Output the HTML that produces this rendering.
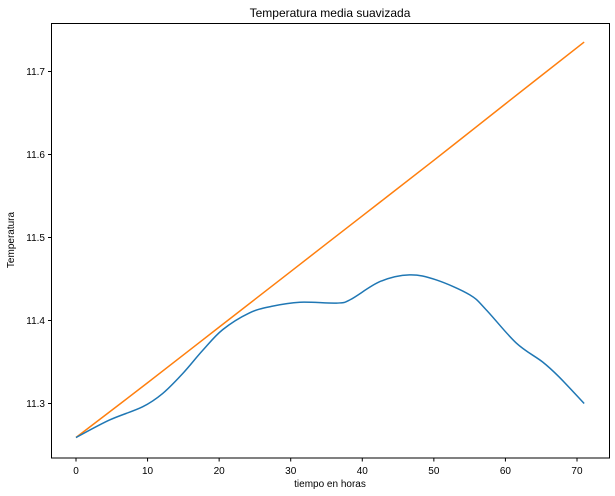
<!DOCTYPE html>
<html><head><meta charset="utf-8"><style>
html,body{margin:0;padding:0;background:#fff;}
svg{display:block;font-family:"Liberation Sans","DejaVu Sans",sans-serif;}
</style></head><body>
<svg id="chart" width="615" height="496">
<rect x="0" y="0" width="615" height="496" fill="#fff"/>
<g id="plot"></g>
<rect x="51.5" y="23.5" width="558" height="434.5" fill="none" stroke="#000" stroke-width="1"/>
<text x="330" y="17" font-size="12" text-anchor="middle">Temperatura media suavizada</text>
<text x="330" y="487" font-size="10" text-anchor="middle">tiempo en horas</text>
<text x="14" y="240" font-size="10" text-anchor="middle" transform="rotate(-90 14 240)">Temperatura</text>
<g id="ticks"></g>
</svg>
<script>
const xTicks=[0,10,20,30,40,50,60,70];
const yTicks=[11.3,11.4,11.5,11.6,11.7];
const yTickLabels=["11.3","11.4","11.5","11.6","11.7"];
const blueT=[0,4.66,9.3,12.1,14.9,17.7,20.5,24.2,27.3,31.3,36.4,38.3,42.5,46.6,50.3,55,57.3,61.5,65.2,67.5,71];
const blueV=[11.259,11.280,11.296,11.312,11.336,11.364,11.389,11.409,11.417,11.422,11.421,11.425,11.447,11.455,11.449,11.431,11.413,11.373,11.350,11.332,11.300];
const orangeT=[0,10,20,30,40,50,60,71];
const orangeV=[11.259,11.325,11.392,11.459,11.526,11.593,11.661,11.7355];
function sx(t){return 76+t*7.157;}
function sy(v){return 403.5-(v-11.3)*830;}
const NS="http://www.w3.org/2000/svg";
const plot=document.getElementById('plot');
const ticks=document.getElementById('ticks');
function smoothPath(pts){
  let d='M'+pts[0][0].toFixed(2)+','+pts[0][1].toFixed(2);
  for(let i=0;i<pts.length-1;i++){
    const p0=pts[Math.max(i-1,0)],p1=pts[i],p2=pts[i+1],p3=pts[Math.min(i+2,pts.length-1)];
    const c1=[p1[0]+(p2[0]-p0[0])/6,p1[1]+(p2[1]-p0[1])/6];
    const c2=[p2[0]-(p3[0]-p1[0])/6,p2[1]-(p3[1]-p1[1])/6];
    d+=' C'+c1[0].toFixed(2)+','+c1[1].toFixed(2)+' '+c2[0].toFixed(2)+','+c2[1].toFixed(2)+' '+p2[0].toFixed(2)+','+p2[1].toFixed(2);
  }
  return d;
}
function line(ts,vs,color,name){
  const p=document.createElementNS(NS,'path');
  p.setAttribute('d',smoothPath(ts.map((t,i)=>[sx(t),sy(vs[i])])));
  p.setAttribute('fill','none');p.setAttribute('stroke',color);p.setAttribute('stroke-width','1.5');
  
  
  plot.appendChild(p);
}
line(orangeT,orangeV,'#ff7f0e','trend-line');
line(blueT,blueV,'#1f77b4','smoothed-temperature-line');
xTicks.forEach(t=>{
  const x=sx(t);
  const l=document.createElementNS(NS,'line');
  l.setAttribute('x1',x);l.setAttribute('x2',x);l.setAttribute('y1',458);l.setAttribute('y2',461.5);l.setAttribute('stroke','#000');
  
  
  ticks.appendChild(l);
  const tx=document.createElementNS(NS,'text');
  tx.setAttribute('x',x);tx.setAttribute('y',474);tx.setAttribute('font-size','10');tx.setAttribute('text-anchor','middle');
  tx.textContent=t;
  
  
  ticks.appendChild(tx);
});
yTicks.forEach((v,i)=>{
  const y=sy(v);
  const l=document.createElementNS(NS,'line');
  l.setAttribute('x1',48);l.setAttribute('x2',51.5);l.setAttribute('y1',y);l.setAttribute('y2',y);l.setAttribute('stroke','#000');
  
  
  ticks.appendChild(l);
  const tx=document.createElementNS(NS,'text');
  tx.setAttribute('x',45);tx.setAttribute('y',y+3.5);tx.setAttribute('font-size','10');tx.setAttribute('text-anchor','end');
  tx.textContent=yTickLabels[i];
  
  
  ticks.appendChild(tx);
});
</script>
</body></html>
